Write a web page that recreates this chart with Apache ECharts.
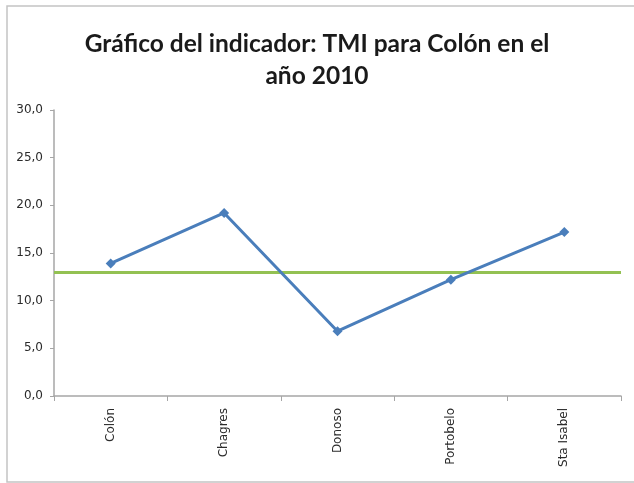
<!DOCTYPE html>
<html>
<head>
<meta charset="utf-8">
<script src="https://cdn.jsdelivr.net/npm/echarts@6/dist/echarts.min.js"></script>
<style>
  html, body { margin: 0; padding: 0; background: #ffffff; }
  #chart { width: 634px; height: 483px; }
</style>
</head>
<body>
<div id="chart"></div>
<script>
// Municipios del distrito de Colón
var categories = ['Colón', 'Chagres', 'Donoso', 'Portobelo', 'Sta Isabel'];
// TMI por corregimiento, año 2010
var tmiValues = [13.9, 19.2, 6.8, 12.2, 17.2];
// Valor de referencia (línea horizontal verde)
var referenceValue = [13.0];
// Marcas del eje vertical
var yTicks = [0, 5, 10, 15, 20, 25, 30];

var chart = echarts.init(document.getElementById('chart'), null, { renderer: 'canvas' });

var titleFont = 'Lato, "Open Sans", "Liberation Sans", sans-serif';
var axisFont = '"DejaVu Sans", "Open Sans", sans-serif';

chart.setOption({
  backgroundColor: '#ffffff',
  animation: false,
  title: {
    text: 'Gráfico del indicador: TMI para Colón en el\naño 2010',
    left: 'center',
    top: 23,
    textStyle: {
      fontFamily: titleFont,
      fontWeight: 'bold',
      fontSize: 24.5,
      lineHeight: 32,
      color: '#1a1a1a'
    }
  },
  graphic: [{
    type: 'rect',
    shape: { x: 7, y: 6, width: 640, height: 476 },
    style: { fill: 'none', stroke: '#c4c4c4', lineWidth: 1.5 },
    silent: true,
    z: -1
  }],
  grid: { left: 54, right: 13, top: 110, bottom: 87, containLabel: false },
  xAxis: {
    type: 'category',
    data: categories,
    boundaryGap: true,
    axisLine: { lineStyle: { color: '#a6a6a6', width: 1.5 } },
    axisTick: { show: true, alignWithLabel: false, length: 5, lineStyle: { color: '#a6a6a6' } },
    axisLabel: {
      rotate: 90,
      interval: 0,
      margin: 12,
      fontFamily: axisFont,
      fontSize: 12,
      color: '#2b2b2b'
    },
    splitLine: { show: false }
  },
  yAxis: {
    type: 'value',
    min: yTicks[0],
    max: yTicks[yTicks.length - 1],
    interval: 5,
    axisLine: { show: true, lineStyle: { color: '#a6a6a6', width: 1.5 } },
    axisTick: { show: true, length: 4, lineStyle: { color: '#a6a6a6' } },
    axisLabel: {
      fontFamily: axisFont,
      fontSize: 12,
      color: '#2b2b2b',
      margin: 11,
      formatter: function (v) { return v.toFixed(1).replace('.', ','); }
    },
    splitLine: { show: false }
  },
  series: [{
    name: 'TMI',
    type: 'line',
    data: tmiValues,
    symbol: 'diamond',
    symbolSize: 10,
    lineStyle: { color: '#4a7ebb', width: 3 },
    itemStyle: { color: '#4a7ebb' },
    z: 3,
    markLine: {
      silent: true,
      symbol: ['none', 'none'],
      label: { show: false },
      lineStyle: { color: '#93c152', width: 3, type: 'solid' },
      data: [{ yAxis: referenceValue[0] }],
      z: 2
    }
  }]
});
</script>
</body>
</html>
